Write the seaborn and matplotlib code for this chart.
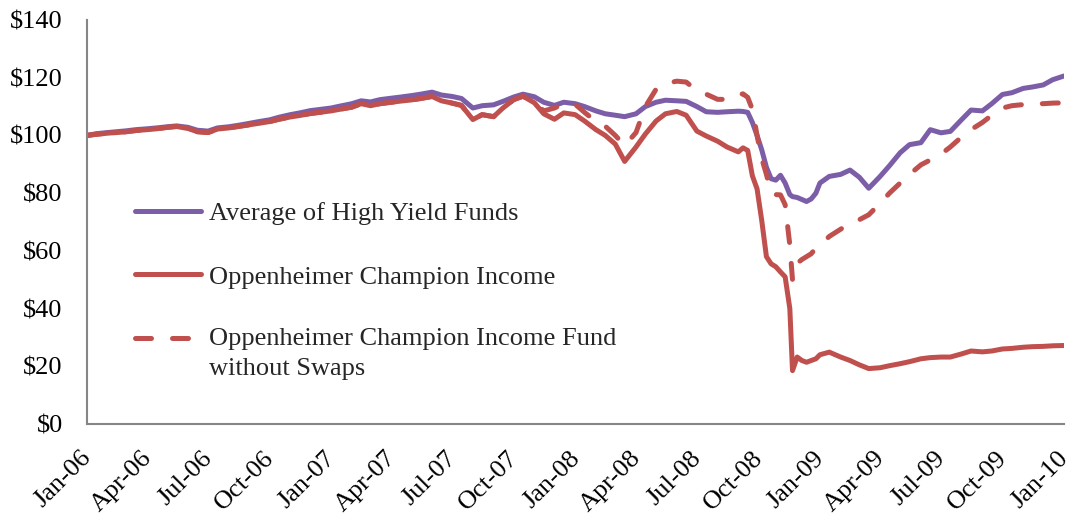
import numpy as np
import pandas as pd
import seaborn as sns
import matplotlib
matplotlib.use("Agg")
import matplotlib.pyplot as plt
import matplotlib.dates as mdates
from matplotlib.transforms import ScaledTranslation
from matplotlib.legend_handler import HandlerLine2D

# Growth of $100 invested
dates = [
    "2006-01-01", "2006-01-15", "2006-02-01", "2006-02-15", "2006-03-01", "2006-03-15",
    "2006-04-01", "2006-04-15", "2006-05-01", "2006-05-15", "2006-06-01", "2006-06-15",
    "2006-07-01", "2006-07-15", "2006-08-01", "2006-08-15", "2006-09-01", "2006-09-15",
    "2006-10-01", "2006-10-15", "2006-11-01", "2006-11-15", "2006-12-01", "2006-12-15",
    "2007-01-01", "2007-01-15", "2007-02-01", "2007-02-15", "2007-03-01", "2007-03-15",
    "2007-04-01", "2007-04-15", "2007-05-01", "2007-05-15", "2007-06-01", "2007-06-15",
    "2007-07-01", "2007-07-15", "2007-08-01", "2007-08-15", "2007-09-01", "2007-09-15",
    "2007-10-01", "2007-10-15", "2007-11-01", "2007-11-15", "2007-12-01", "2007-12-15",
    "2008-01-01", "2008-01-15", "2008-02-01", "2008-02-15", "2008-03-01", "2008-03-15",
    "2008-04-01", "2008-04-15", "2008-05-01", "2008-05-15", "2008-06-01", "2008-06-15",
    "2008-07-01", "2008-07-15", "2008-08-01", "2008-08-15",
    "2008-09-01", "2008-09-08", "2008-09-15", "2008-09-22", "2008-09-29", "2008-10-06",
    "2008-10-13", "2008-10-20", "2008-10-27", "2008-11-03", "2008-11-10", "2008-11-17",
    "2008-11-21", "2008-11-28", "2008-12-05", "2008-12-12", "2008-12-19", "2008-12-26",
    "2009-01-01", "2009-01-15", "2009-02-01", "2009-02-15", "2009-03-01", "2009-03-15",
    "2009-04-01", "2009-04-15", "2009-05-01", "2009-05-15", "2009-06-01", "2009-06-15",
    "2009-07-01", "2009-07-15", "2009-08-01", "2009-08-15", "2009-09-01", "2009-09-15",
    "2009-10-01", "2009-10-15", "2009-11-01", "2009-11-15", "2009-12-01", "2009-12-15",
    "2010-01-01",
]

high_yield_avg = [
    100.0, 100.6, 101.0, 101.3, 101.6, 102.0, 102.3, 102.6, 103.0, 103.3, 102.8, 101.8,
    101.5, 102.6, 103.0, 103.5, 104.2, 104.8, 105.4, 106.3, 107.2, 107.8, 108.6, 109.0,
    109.5, 110.2, 111.0, 112.0, 111.6, 112.4, 112.9, 113.3, 113.8, 114.3, 115.0, 114.0,
    113.5, 112.8, 109.5, 110.3, 110.6, 111.8, 113.3, 114.3, 113.4, 111.5, 110.4, 111.5,
    111.0, 110.0, 108.5, 107.5, 107.0, 106.5, 107.5, 110.0, 111.5, 112.2, 112.0, 111.8,
    110.0, 108.2, 108.0, 108.2,
    108.4, 108.3, 108.0, 104.5, 100.0, 95.0, 89.0, 85.0, 84.5, 86.2, 83.5, 79.5,
    78.8, 78.5, 77.8, 77.1, 78.0, 80.0,
    83.5, 85.8, 86.5, 88.0, 85.5, 81.7, 85.8, 89.5, 94.0, 96.8, 97.5, 102.0,
    100.9, 101.4, 105.5, 108.8, 108.5, 111.0, 114.2, 114.8, 116.3, 116.8, 117.5, 119.3,
    120.6,
]

champion_income = [
    100.0, 100.4, 100.8, 101.0, 101.3, 101.7, 102.0, 102.3, 102.8, 103.1, 102.4, 101.3,
    101.0, 102.2, 102.6, 103.1, 103.7, 104.2, 104.8, 105.6, 106.4, 106.9, 107.6, 108.0,
    108.5, 109.1, 109.8, 111.0, 110.3, 111.0, 111.5, 111.9, 112.3, 112.8, 113.5, 112.0,
    111.2, 110.4, 105.5, 107.2, 106.5, 109.5, 112.4, 113.6, 111.3, 107.5, 105.6, 107.8,
    107.2, 105.0, 102.0, 100.0, 97.0, 91.0, 96.0, 100.5, 105.0, 107.5, 108.3, 107.0,
    101.5, 99.8, 98.0, 96.0,
    94.3, 95.7, 94.8, 86.0, 81.5, 70.5, 58.0, 55.5, 54.5, 52.7, 51.0, 40.0,
    18.5, 23.2, 22.0, 21.4, 22.0, 22.6,
    24.0, 24.9, 23.2, 22.0, 20.5, 19.2, 19.5, 20.2, 20.9, 21.6, 22.6, 23.0,
    23.2, 23.2, 24.3, 25.3, 25.0, 25.3, 26.0, 26.2, 26.6, 26.8, 26.9, 27.1,
    27.2,
]

champion_no_swaps = [
    100.0, 100.4, 100.8, 101.0, 101.3, 101.7, 102.0, 102.3, 102.8, 103.1, 102.4, 101.3,
    101.0, 102.2, 102.6, 103.1, 103.7, 104.2, 104.8, 105.6, 106.4, 106.9, 107.6, 108.0,
    108.5, 109.1, 109.8, 111.0, 110.3, 111.0, 111.5, 111.9, 112.3, 112.8, 113.5, 112.0,
    111.2, 110.4, 105.5, 107.2, 106.5, 109.5, 112.4, 113.6, 111.3, 108.5, 109.5, 111.0,
    110.8, 108.0, 104.8, 103.2, 100.0, 96.5, 101.0, 110.0, 116.0, 118.0, 118.8, 118.5,
    115.5, 114.3, 112.5, 112.5,
    114.2, 114.4, 113.2, 109.0, 100.0, 92.0, 86.5, 80.0, 79.5, 79.4, 76.0, 62.0,
    50.0, 55.7, 57.0, 58.0, 59.0, 61.0,
    62.0, 65.0, 67.5, 69.6, 70.8, 72.5, 76.5, 80.0, 83.5, 86.5, 89.8, 91.5,
    93.5, 96.0, 99.5, 102.0, 104.5, 107.0, 109.5, 110.3, 110.7, 111.0, 111.0, 111.2,
    111.3,
]

series_names = [
    "Average of High Yield Funds",
    "Oppenheimer Champion Income",
    "Oppenheimer Champion Income Fund\nwithout Swaps",
]
y_ticks = [0, 20, 40, 60, 80, 100, 120, 140]

purple = "#7B5EA7"
red = "#C0504D"
grey = "#868686"
lw = 3.6


class FirstLineHandler(HandlerLine2D):
    """Put the legend sample level with the first line of a two-line label."""

    def __init__(self, shift, **kw):
        super().__init__(**kw)
        self.shift = shift

    def create_artists(self, legend, orig_handle, xdescent, ydescent, width,
                       height, fontsize, trans):
        artists = super().create_artists(legend, orig_handle, xdescent, ydescent,
                                         width, height, fontsize, trans)
        for a in artists:
            a.set_ydata(np.asarray(a.get_ydata()) + self.shift)
        return artists


df = pd.DataFrame({
    "date": pd.to_datetime(dates),
    "hy": high_yield_avg,
    "ci": champion_income,
    "ns": champion_no_swaps,
})

sns.set_style("white")
plt.rcParams["font.family"] = ["Liberation Serif", "DejaVu Serif"]
plt.rcParams["font.size"] = 19

fig = plt.figure(figsize=(10.71, 5.18), dpi=100)
ax = fig.add_axes([87 / 1071, 1 - 424 / 518, (1064 - 87) / 1071, (424 - 20) / 518])

sns.lineplot(data=df, x="date", y="hy", ax=ax, color=purple, linewidth=lw,
             label=series_names[0], solid_capstyle="round")
sns.lineplot(data=df, x="date", y="ci", ax=ax, color=red, linewidth=lw,
             label=series_names[1], solid_capstyle="round")
sns.lineplot(data=df, x="date", y="ns", ax=ax, color=red, linewidth=lw,
             label=series_names[2])

dashed = [ln for ln in ax.lines if ln.get_label() == series_names[2]][0]
dashed.set_linestyle((0, (3.2, 4.2)))
dashed.set_dash_capstyle("round")

ax.set_xlim(pd.Timestamp("2006-01-01"), pd.Timestamp("2010-01-01"))
ax.set_ylim(0, 140)
ax.set_yticks(y_ticks)
ax.set_yticklabels([f"${v}" for v in y_ticks])
ax.xaxis.set_major_locator(mdates.MonthLocator(bymonth=[1, 4, 7, 10]))
ax.xaxis.set_major_formatter(mdates.DateFormatter("%b-%y"))
ax.set_xlabel("")
ax.set_ylabel("")

for side in ["top", "right"]:
    ax.spines[side].set_visible(False)
for side in ["left", "bottom"]:
    ax.spines[side].set_color(grey)
    ax.spines[side].set_linewidth(1.5)
ax.tick_params(axis="both", which="major", length=6, width=1.5, color=grey,
               direction="out", labelsize=19, labelcolor="black")
ax.tick_params(axis="y", pad=11.5)
ax.tick_params(axis="x", pad=4)
shift = ScaledTranslation(-0.065, -0.09, fig.dpi_scale_trans)
for lbl in ax.get_xticklabels():
    lbl.set_rotation(45)
    lbl.set_ha("right")
    lbl.set_va("top")
    lbl.set_rotation_mode("anchor")
    lbl.set_transform(lbl.get_transform() + shift)

handles, labels = ax.get_legend_handles_labels()
leg = ax.legend(handles, labels, loc="upper left",
                bbox_to_anchor=(135 / 1071, 1 - 202 / 518),
                bbox_transform=fig.transFigure, frameon=False, fontsize=19,
                handlelength=2.5, handletextpad=0.3, labelspacing=1.5,
                borderpad=0, borderaxespad=0,
                handler_map={handles[2]: FirstLineHandler(11.0)})
leg.get_texts()[2].set_linespacing(1.45)
for h in leg.get_lines():
    h.set_linewidth(lw)

fig.savefig("out.png", dpi=100)
